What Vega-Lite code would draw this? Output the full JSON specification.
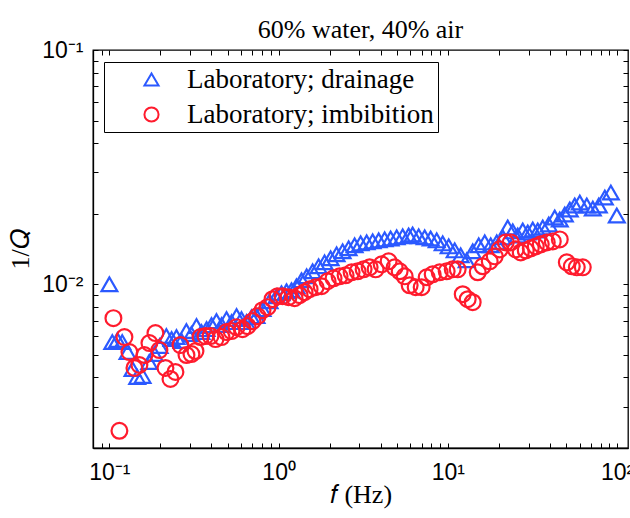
{
  "$schema": "https://vega.github.io/schema/vega-lite/v6.json",
  "width": 535,
  "height": 398,
  "autosize": "none",
  "padding": {"left": 93, "top": 50, "right": 2, "bottom": 70},
  "background": "white",
  "title": {"text": "60% water, 40% air", "font": "Liberation Serif", "fontSize": 26, "fontWeight": "normal", "color": "black", "anchor": "middle", "baseline": "alphabetic", "offset": -25},
  "config": {
    "view": {"stroke": "black", "strokeWidth": 1.3},
    "axis": {"domainColor": "black", "domainWidth": 1.3, "tickColor": "black", "tickWidth": 1, "tickSize": -5, "labelFont": "Liberation Sans", "labelFontSize": 23, "labelColor": "black", "titleFont": "Liberation Serif", "titleFontSize": 26, "titleFontWeight": "normal", "titleColor": "black", "grid": false, "labelFlush": false, "labelOverlap": false}
  },
  "data": {"values": [
    {"f": 0.100, "q": 0.0100, "s": "Laboratory; drainage"},
    {"f": 0.104, "q": 0.005665, "s": "Laboratory; drainage"},
    {"f": 0.1115, "q": 0.005777, "s": "Laboratory; drainage"},
    {"f": 0.119, "q": 0.005665, "s": "Laboratory; drainage"},
    {"f": 0.128, "q": 0.005136, "s": "Laboratory; drainage"},
    {"f": 0.137, "q": 0.004348, "s": "Laboratory; drainage"},
    {"f": 0.146, "q": 0.004021, "s": "Laboratory; drainage"},
    {"f": 0.157, "q": 0.00406, "s": "Laboratory; drainage"},
    {"f": 0.172, "q": 0.004657, "s": "Laboratory; drainage"},
    {"f": 0.185, "q": 0.005036, "s": "Laboratory; drainage"},
    {"f": 0.198, "q": 0.005447, "s": "Laboratory; drainage"},
    {"f": 0.217, "q": 0.006008, "s": "Laboratory; drainage"},
    {"f": 0.233, "q": 0.005834, "s": "Laboratory; drainage"},
    {"f": 0.249, "q": 0.00595, "s": "Laboratory; drainage"},
    {"f": 0.267, "q": 0.00572, "s": "Laboratory; drainage"},
    {"f": 0.285, "q": 0.00631, "s": "Laboratory; drainage"},
    {"f": 0.305, "q": 0.006127, "s": "Laboratory; drainage"},
    {"f": 0.327, "q": 0.006625, "s": "Laboratory; drainage"},
    {"f": 0.350, "q": 0.006248, "s": "Laboratory; drainage"},
    {"f": 0.375, "q": 0.006433, "s": "Laboratory; drainage"},
    {"f": 0.401, "q": 0.00669, "s": "Laboratory; drainage"},
    {"f": 0.429, "q": 0.006958, "s": "Laboratory; drainage"},
    {"f": 0.460, "q": 0.00669, "s": "Laboratory; drainage"},
    {"f": 0.492, "q": 0.007096, "s": "Laboratory; drainage"},
    {"f": 0.527, "q": 0.006891, "s": "Laboratory; drainage"},
    {"f": 0.564, "q": 0.007308, "s": "Laboratory; drainage"},
    {"f": 0.603, "q": 0.007096, "s": "Laboratory; drainage"},
    {"f": 0.646, "q": 0.006891, "s": "Laboratory; drainage"},
    {"f": 0.692, "q": 0.007236, "s": "Laboratory; drainage"},
    {"f": 0.740, "q": 0.007308, "s": "Laboratory; drainage"},
    {"f": 0.803, "q": 0.007828, "s": "Laboratory; drainage"},
    {"f": 0.884, "q": 0.008467, "s": "Laboratory; drainage"},
    {"f": 0.972, "q": 0.008891, "s": "Laboratory; drainage"},
    {"f": 1.040, "q": 0.009157, "s": "Laboratory; drainage"},
    {"f": 1.114, "q": 0.009338, "s": "Laboratory; drainage"},
    {"f": 1.192, "q": 0.00943, "s": "Laboratory; drainage"},
    {"f": 1.276, "q": 0.009806, "s": "Laboratory; drainage"},
    {"f": 1.366, "q": 0.0104, "s": "Laboratory; drainage"},
    {"f": 1.463, "q": 0.01081, "s": "Laboratory; drainage"},
    {"f": 1.587, "q": 0.01136, "s": "Laboratory; drainage"},
    {"f": 1.722, "q": 0.01193, "s": "Laboratory; drainage"},
    {"f": 1.868, "q": 0.0124, "s": "Laboratory; drainage"},
    {"f": 2.028, "q": 0.0129, "s": "Laboratory; drainage"},
    {"f": 2.200, "q": 0.01342, "s": "Laboratory; drainage"},
    {"f": 2.388, "q": 0.01382, "s": "Laboratory; drainage"},
    {"f": 2.591, "q": 0.01423, "s": "Laboratory; drainage"},
    {"f": 2.811, "q": 0.01466, "s": "Laboratory; drainage"},
    {"f": 3.051, "q": 0.01494, "s": "Laboratory; drainage"},
    {"f": 3.311, "q": 0.01509, "s": "Laboratory; drainage"},
    {"f": 3.593, "q": 0.01524, "s": "Laboratory; drainage"},
    {"f": 3.899, "q": 0.01539, "s": "Laboratory; drainage"},
    {"f": 4.230, "q": 0.01554, "s": "Laboratory; drainage"},
    {"f": 4.590, "q": 0.01569, "s": "Laboratory; drainage"},
    {"f": 4.981, "q": 0.01585, "s": "Laboratory; drainage"},
    {"f": 5.406, "q": 0.01601, "s": "Laboratory; drainage"},
    {"f": 5.866, "q": 0.01616, "s": "Laboratory; drainage"},
    {"f": 6.193, "q": 0.01632, "s": "Laboratory; drainage"},
    {"f": 6.720, "q": 0.01601, "s": "Laboratory; drainage"},
    {"f": 7.293, "q": 0.01585, "s": "Laboratory; drainage"},
    {"f": 7.914, "q": 0.01569, "s": "Laboratory; drainage"},
    {"f": 8.588, "q": 0.01539, "s": "Laboratory; drainage"},
    {"f": 9.319, "q": 0.01494, "s": "Laboratory; drainage"},
    {"f": 10.11, "q": 0.01451, "s": "Laboratory; drainage"},
    {"f": 10.97, "q": 0.01395, "s": "Laboratory; drainage"},
    {"f": 11.90, "q": 0.01329, "s": "Laboratory; drainage"},
    {"f": 12.92, "q": 0.01265, "s": "Laboratory; drainage"},
    {"f": 14.02, "q": 0.01382, "s": "Laboratory; drainage"},
    {"f": 15.21, "q": 0.01466, "s": "Laboratory; drainage"},
    {"f": 16.51, "q": 0.01509, "s": "Laboratory; drainage"},
    {"f": 17.91, "q": 0.01466, "s": "Laboratory; drainage"},
    {"f": 19.44, "q": 0.01509, "s": "Laboratory; drainage"},
    {"f": 21.10, "q": 0.01585, "s": "Laboratory; drainage"},
    {"f": 22.58, "q": 0.01748, "s": "Laboratory; drainage"},
    {"f": 24.17, "q": 0.01681, "s": "Laboratory; drainage"},
    {"f": 25.88, "q": 0.01616, "s": "Laboratory; drainage"},
    {"f": 27.71, "q": 0.01697, "s": "Laboratory; drainage"},
    {"f": 29.66, "q": 0.01664, "s": "Laboratory; drainage"},
    {"f": 31.75, "q": 0.01714, "s": "Laboratory; drainage"},
    {"f": 33.98, "q": 0.01697, "s": "Laboratory; drainage"},
    {"f": 36.38, "q": 0.01748, "s": "Laboratory; drainage"},
    {"f": 39.48, "q": 0.0180, "s": "Laboratory; drainage"},
    {"f": 42.82, "q": 0.01928, "s": "Laboratory; drainage"},
    {"f": 45.85, "q": 0.0189, "s": "Laboratory; drainage"},
    {"f": 49.09, "q": 0.01986, "s": "Laboratory; drainage"},
    {"f": 52.54, "q": 0.02085, "s": "Laboratory; drainage"},
    {"f": 56.23, "q": 0.02169, "s": "Laboratory; drainage"},
    {"f": 60.20, "q": 0.02233, "s": "Laboratory; drainage"},
    {"f": 66.22, "q": 0.02169, "s": "Laboratory; drainage"},
    {"f": 71.86, "q": 0.02105, "s": "Laboratory; drainage"},
    {"f": 77.98, "q": 0.02169, "s": "Laboratory; drainage"},
    {"f": 84.61, "q": 0.02345, "s": "Laboratory; drainage"},
    {"f": 91.83, "q": 0.02463, "s": "Laboratory; drainage"},
    {"f": 99.6, "q": 0.01966, "s": "Laboratory; drainage"},
    {"f": 0.1056, "q": 0.007166, "s": "Laboratory; imbibition"},
    {"f": 0.1146, "q": 0.002369, "s": "Laboratory; imbibition"},
    {"f": 0.1227, "q": 0.00595, "s": "Laboratory; imbibition"},
    {"f": 0.1313, "q": 0.005136, "s": "Laboratory; imbibition"},
    {"f": 0.1406, "q": 0.004391, "s": "Laboratory; imbibition"},
    {"f": 0.1504, "q": 0.004522, "s": "Laboratory; imbibition"},
    {"f": 0.1611, "q": 0.004987, "s": "Laboratory; imbibition"},
    {"f": 0.1724, "q": 0.005609, "s": "Laboratory; imbibition"},
    {"f": 0.1871, "q": 0.006187, "s": "Laboratory; imbibition"},
    {"f": 0.1975, "q": 0.005237, "s": "Laboratory; imbibition"},
    {"f": 0.2144, "q": 0.004391, "s": "Laboratory; imbibition"},
    {"f": 0.2295, "q": 0.003942, "s": "Laboratory; imbibition"},
    {"f": 0.2456, "q": 0.004222, "s": "Laboratory; imbibition"},
    {"f": 0.263, "q": 0.0055, "s": "Laboratory; imbibition"},
    {"f": 0.2854, "q": 0.004987, "s": "Laboratory; imbibition"},
    {"f": 0.3054, "q": 0.005036, "s": "Laboratory; imbibition"},
    {"f": 0.3226, "q": 0.005187, "s": "Laboratory; imbibition"},
    {"f": 0.3453, "q": 0.00595, "s": "Laboratory; imbibition"},
    {"f": 0.3696, "q": 0.006008, "s": "Laboratory; imbibition"},
    {"f": 0.3957, "q": 0.006008, "s": "Laboratory; imbibition"},
    {"f": 0.4236, "q": 0.005834, "s": "Laboratory; imbibition"},
    {"f": 0.4597, "q": 0.00595, "s": "Laboratory; imbibition"},
    {"f": 0.492, "q": 0.006248, "s": "Laboratory; imbibition"},
    {"f": 0.5267, "q": 0.00631, "s": "Laboratory; imbibition"},
    {"f": 0.5638, "q": 0.006561, "s": "Laboratory; imbibition"},
    {"f": 0.6118, "q": 0.006433, "s": "Laboratory; imbibition"},
    {"f": 0.6549, "q": 0.006625, "s": "Laboratory; imbibition"},
    {"f": 0.7011, "q": 0.006958, "s": "Laboratory; imbibition"},
    {"f": 0.7505, "q": 0.007308, "s": "Laboratory; imbibition"},
    {"f": 0.8031, "q": 0.007752, "s": "Laboratory; imbibition"},
    {"f": 0.860, "q": 0.007983, "s": "Laboratory; imbibition"},
    {"f": 0.9204, "q": 0.008634, "s": "Laboratory; imbibition"},
    {"f": 0.9854, "q": 0.008891, "s": "Laboratory; imbibition"},
    {"f": 1.055, "q": 0.008891, "s": "Laboratory; imbibition"},
    {"f": 1.144, "q": 0.008805, "s": "Laboratory; imbibition"},
    {"f": 1.242, "q": 0.008719, "s": "Laboratory; imbibition"},
    {"f": 1.330, "q": 0.008979, "s": "Laboratory; imbibition"},
    {"f": 1.423, "q": 0.009247, "s": "Laboratory; imbibition"},
    {"f": 1.524, "q": 0.009522, "s": "Laboratory; imbibition"},
    {"f": 1.653, "q": 0.00971, "s": "Laboratory; imbibition"},
    {"f": 1.794, "q": 0.009806, "s": "Laboratory; imbibition"},
    {"f": 1.947, "q": 0.0103, "s": "Laboratory; imbibition"},
    {"f": 2.112, "q": 0.0106, "s": "Laboratory; imbibition"},
    {"f": 2.292, "q": 0.01081, "s": "Laboratory; imbibition"},
    {"f": 2.487, "q": 0.01092, "s": "Laboratory; imbibition"},
    {"f": 2.699, "q": 0.01125, "s": "Laboratory; imbibition"},
    {"f": 2.929, "q": 0.01136, "s": "Laboratory; imbibition"},
    {"f": 3.178, "q": 0.01158, "s": "Laboratory; imbibition"},
    {"f": 3.449, "q": 0.01181, "s": "Laboratory; imbibition"},
    {"f": 3.742, "q": 0.01158, "s": "Laboratory; imbibition"},
    {"f": 4.061, "q": 0.01216, "s": "Laboratory; imbibition"},
    {"f": 4.467, "q": 0.01253, "s": "Laboratory; imbibition"},
    {"f": 4.847, "q": 0.01181, "s": "Laboratory; imbibition"},
    {"f": 5.190, "q": 0.01136, "s": "Laboratory; imbibition"},
    {"f": 5.555, "q": 0.01081, "s": "Laboratory; imbibition"},
    {"f": 5.947, "q": 0.009901, "s": "Laboratory; imbibition"},
    {"f": 6.452, "q": 0.00971, "s": "Laboratory; imbibition"},
    {"f": 7.002, "q": 0.00971, "s": "Laboratory; imbibition"},
    {"f": 7.494, "q": 0.01071, "s": "Laboratory; imbibition"},
    {"f": 8.133, "q": 0.01103, "s": "Laboratory; imbibition"},
    {"f": 8.946, "q": 0.01125, "s": "Laboratory; imbibition"},
    {"f": 9.840, "q": 0.01136, "s": "Laboratory; imbibition"},
    {"f": 10.68, "q": 0.01158, "s": "Laboratory; imbibition"},
    {"f": 11.43, "q": 0.01158, "s": "Laboratory; imbibition"},
    {"f": 12.24, "q": 0.009067, "s": "Laboratory; imbibition"},
    {"f": 13.10, "q": 0.008634, "s": "Laboratory; imbibition"},
    {"f": 14.02, "q": 0.008384, "s": "Laboratory; imbibition"},
    {"f": 15.01, "q": 0.01125, "s": "Laboratory; imbibition"},
    {"f": 16.07, "q": 0.01193, "s": "Laboratory; imbibition"},
    {"f": 17.67, "q": 0.01253, "s": "Laboratory; imbibition"},
    {"f": 18.92, "q": 0.01316, "s": "Laboratory; imbibition"},
    {"f": 20.25, "q": 0.01409, "s": "Laboratory; imbibition"},
    {"f": 21.98, "q": 0.01509, "s": "Laboratory; imbibition"},
    {"f": 23.53, "q": 0.01509, "s": "Laboratory; imbibition"},
    {"f": 25.19, "q": 0.01409, "s": "Laboratory; imbibition"},
    {"f": 26.96, "q": 0.01368, "s": "Laboratory; imbibition"},
    {"f": 28.86, "q": 0.01395, "s": "Laboratory; imbibition"},
    {"f": 30.90, "q": 0.01423, "s": "Laboratory; imbibition"},
    {"f": 33.07, "q": 0.01451, "s": "Laboratory; imbibition"},
    {"f": 35.40, "q": 0.0148, "s": "Laboratory; imbibition"},
    {"f": 38.41, "q": 0.01509, "s": "Laboratory; imbibition"},
    {"f": 41.69, "q": 0.01524, "s": "Laboratory; imbibition"},
    {"f": 45.85, "q": 0.01554, "s": "Laboratory; imbibition"},
    {"f": 50.44, "q": 0.0124, "s": "Laboratory; imbibition"},
    {"f": 53.99, "q": 0.01193, "s": "Laboratory; imbibition"},
    {"f": 57.79, "q": 0.01181, "s": "Laboratory; imbibition"},
    {"f": 62.71, "q": 0.01181, "s": "Laboratory; imbibition"}
  ]},
  "layer": [
    {
      "mark": {"type": "point", "filled": false, "size": 250, "strokeWidth": 2.2, "opacity": 1},
      "encoding": {
        "x": {"field": "f", "type": "quantitative", "scale": {"type": "log", "domain": [0.08, 116], "nice": false},
              "axis": {"orient": "bottom", "title": "𝑓 (Hz)", "values": [0.09, 0.1, 0.2, 0.3, 0.4, 0.5, 0.6, 0.7, 0.8, 0.9, 1, 2, 3, 4, 5, 6, 7, 8, 9, 10, 20, 30, 40, 50, 60, 70, 80, 90, 100],
                       "labelExpr": "datum.value == 0.1 ? '10⁻¹' : datum.value == 1 ? '10⁰' : datum.value == 10 ? '10¹' : datum.value == 100 ? '10²' : ''",
                       "labelPadding": 18, "titlePadding": -3}},
        "y": {"field": "q", "type": "quantitative", "scale": {"type": "log", "domain": [0.002, 0.1], "nice": false},
              "axis": {"orient": "left", "title": "1/𝑄", "values": [0.002, 0.003, 0.004, 0.005, 0.006, 0.007, 0.008, 0.009, 0.01, 0.02, 0.03, 0.04, 0.05, 0.06, 0.07, 0.08, 0.09, 0.1],
                       "labelExpr": "datum.value == 0.1 ? '10⁻¹' : datum.value == 0.01 ? '10⁻²' : ''",
                       "labelPadding": 15, "titlePadding": 8}},
        "color": {"field": "s", "type": "nominal", "scale": {"domain": ["Laboratory; drainage", "Laboratory; imbibition"], "range": ["#2b59ff", "#ff1b2d"]},
                  "legend": {"title": null, "orient": "none", "legendX": 11, "legendY": 12, "strokeColor": "black", "fillColor": "white", "padding": 4, "rowPadding": 7, "symbolOffset": 30, "labelOffset": 22, "symbolSize": 200, "symbolStrokeWidth": 2, "labelFont": "Liberation Serif", "labelFontSize": 27, "labelColor": "black", "labelLimit": 400, "labelExpr": "datum.label + '\u00a0'"}},
        "shape": {"field": "s", "type": "nominal", "scale": {"domain": ["Laboratory; drainage", "Laboratory; imbibition"], "range": ["triangle-up", "circle"]},
                  "legend": {"title": null, "orient": "none", "legendX": 11, "legendY": 12, "strokeColor": "black", "fillColor": "white", "padding": 4, "rowPadding": 7, "symbolOffset": 30, "labelOffset": 22, "symbolSize": 200, "symbolStrokeWidth": 2, "labelFont": "Liberation Serif", "labelFontSize": 27, "labelColor": "black", "labelLimit": 400, "labelExpr": "datum.label + '\u00a0'"}}
      }
    },
    {
      "mark": {"type": "point", "opacity": 0},
      "encoding": {
        "x": {"field": "f", "type": "quantitative", "axis": {"orient": "top", "title": null, "labels": false, "domain": false, "values": [0.09, 0.1, 0.2, 0.3, 0.4, 0.5, 0.6, 0.7, 0.8, 0.9, 1, 2, 3, 4, 5, 6, 7, 8, 9, 10, 20, 30, 40, 50, 60, 70, 80, 90, 100]}},
        "y": {"field": "q", "type": "quantitative", "axis": {"orient": "right", "title": null, "labels": false, "domain": false, "values": [0.002, 0.003, 0.004, 0.005, 0.006, 0.007, 0.008, 0.009, 0.01, 0.02, 0.03, 0.04, 0.05, 0.06, 0.07, 0.08, 0.09, 0.1]}}
      }
    }
  ],
  "resolve": {"axis": {"x": "independent", "y": "independent"}}
}
